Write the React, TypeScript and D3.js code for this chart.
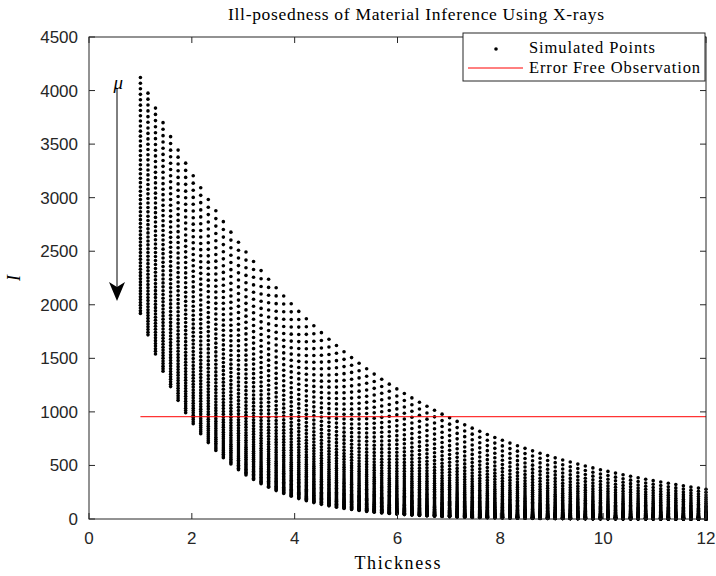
import React from "react";
import * as d3 from "d3";

// Thickness grid (76 columns from 1 to 12)
const THICKNESS = [
  1.0, 1.147, 1.293, 1.44, 1.587, 1.733, 1.88, 2.027, 2.173, 2.32, 2.467, 2.613, 2.76, 2.907, 3.053, 3.2,
  3.347, 3.493, 3.64, 3.787, 3.933, 4.08, 4.227, 4.373, 4.52, 4.667, 4.813, 4.96, 5.107, 5.253, 5.4, 5.547,
  5.693, 5.84, 5.987, 6.133, 6.28, 6.427, 6.573, 6.72, 6.867, 7.013, 7.16, 7.307, 7.453, 7.6, 7.747, 7.893,
  8.04, 8.187, 8.333, 8.48, 8.627, 8.773, 8.92, 9.067, 9.213, 9.36, 9.507, 9.653, 9.8, 9.947, 10.093, 10.24,
  10.387, 10.533, 10.68, 10.827, 10.973, 11.12, 11.267, 11.413, 11.56, 11.707, 11.853, 12.0,
];

// Attenuation coefficient of each simulated material (rows, top to bottom)
const MU = [
  0.245, 0.2536, 0.2621, 0.2707, 0.2792, 0.2878, 0.2964, 0.3049, 0.3135, 0.322, 0.3306, 0.3392, 0.3477, 0.3563,
  0.3648, 0.3734, 0.3819, 0.3905, 0.3991, 0.4076, 0.4162, 0.4247, 0.4333, 0.4419, 0.4504, 0.459, 0.4675, 0.4761,
  0.4847, 0.4932, 0.5018, 0.5103, 0.5189, 0.5275, 0.536, 0.5446, 0.5531, 0.5617, 0.5703, 0.5788, 0.5874, 0.5959,
  0.6045, 0.6131, 0.6216, 0.6302, 0.6387, 0.6473, 0.6558, 0.6644, 0.673, 0.6815, 0.6901, 0.6986, 0.7072, 0.7158,
  0.7243, 0.7329, 0.7414, 0.75,
];

// Effective source intensity for each material row
const SOURCE_I0 = [
  5266, 5243, 5220, 5197, 5174, 5152, 5129, 5107, 5084, 5062, 5040, 5018, 4996, 4974, 4952, 4930, 4909, 4887,
  4866, 4845, 4823, 4802, 4781, 4760, 4739, 4719, 4698, 4677, 4657, 4636, 4616, 4596, 4576, 4556, 4536, 4516,
  4496, 4476, 4457, 4437, 4418, 4399, 4379, 4360, 4341, 4322, 4303, 4284, 4265, 4247, 4228, 4210, 4191, 4173,
  4155, 4136, 4118, 4100, 4082, 4064,
];

const OBSERVATION_I = [955, 955];
const OBSERVATION_T = [1, 12];

const X_TICKS = [0, 2, 4, 6, 8, 10, 12];
const Y_TICKS = [0, 500, 1000, 1500, 2000, 2500, 3000, 3500, 4000, 4500];

const TITLE = "Ill-posedness of Material Inference Using X-rays";
const X_LABEL = "Thickness";
const Y_LABEL = "I";
const LEGEND = ["Simulated Points", "Error Free Observation"];

const W = 716;
const H = 576;
const M = { left: 89, right: 706, top: 37, bottom: 519 };
const AXIS = "#262626";
const SERIF = "'Liberation Serif', 'Times New Roman', serif";
const SANS = "'Liberation Sans', Arial, sans-serif";

export default function App() {
  const x = d3.scaleLinear().domain([0, 12]).range([M.left, M.right]);
  const y = d3.scaleLinear().domain([0, 4500]).range([M.bottom, M.top]);

  const points: { t: number; v: number }[] = [];
  THICKNESS.forEach((t) => {
    MU.forEach((mu, k) => {
      points.push({ t, v: SOURCE_I0[k] * Math.exp(-mu * t) });
    });
  });

  const obsLine = d3
    .line<number>()
    .x((d) => x(d))
    .y((_, i) => y(OBSERVATION_I[i]))(OBSERVATION_T);

  const legX = 463;
  const legY = 33;
  const legW = 242;
  const legH = 48;

  return (
    <svg
      width={W}
      height={H}
      style={{ position: "fixed", left: 0, top: 0, background: "#fff" }}
    >
      <rect x={0} y={0} width={W} height={H} fill="#fff" />
      {/* title */}
      <text
        x={228}
        y={20}
        fontFamily={SERIF}
        fontSize={17.5}
        textLength={376}
        lengthAdjust="spacing"
        fill="#000"
      >
        {TITLE}
      </text>

      {/* points */}
      <g fill="#000">
        {points.map((p, i) => (
          <circle key={i} cx={x(p.t)} cy={y(p.v)} r={1.8} />
        ))}
      </g>

      {/* observation line */}
      <path d={obsLine || ""} stroke="#ff0000" strokeWidth={1} fill="none" />

      {/* axes box */}
      <rect
        x={M.left}
        y={M.top}
        width={M.right - M.left}
        height={M.bottom - M.top}
        fill="none"
        stroke={AXIS}
        strokeWidth={1}
      />
      {/* x ticks */}
      {X_TICKS.map((t) => (
        <g key={"x" + t}>
          <line x1={x(t)} x2={x(t)} y1={M.bottom} y2={M.bottom - 6} stroke={AXIS} />
          <line x1={x(t)} x2={x(t)} y1={M.top} y2={M.top + 6} stroke={AXIS} />
          <text
            x={x(t)}
            y={543.5}
            textAnchor="middle"
            fontFamily={SANS}
            fontSize={17}
            fill={AXIS}
          >
            {t}
          </text>
        </g>
      ))}
      {/* y ticks */}
      {Y_TICKS.map((v) => (
        <g key={"y" + v}>
          <line x1={M.left} x2={M.left + 6} y1={y(v)} y2={y(v)} stroke={AXIS} />
          <line x1={M.right} x2={M.right - 6} y1={y(v)} y2={y(v)} stroke={AXIS} />
          <text
            x={78}
            y={y(v) + 6}
            textAnchor="end"
            fontFamily={SANS}
            fontSize={17}
            fill={AXIS}
          >
            {v}
          </text>
        </g>
      ))}

      {/* axis labels */}
      <text
        x={(M.left + M.right) / 2}
        y={569}
        textAnchor="middle"
        fontFamily={SERIF}
        fontSize={18}
        textLength={86}
        lengthAdjust="spacing"
        fill="#000"
      >
        {X_LABEL}
      </text>
      <text
        transform={`translate(20, ${(M.top + M.bottom) / 2}) rotate(-90)`}
        textAnchor="middle"
        fontFamily={SERIF}
        fontStyle="italic"
        fontSize={18}
        fill="#000"
      >
        {Y_LABEL}
      </text>

      {/* mu arrow */}
      <line x1={117} x2={117} y1={89} y2={290} stroke="#000" strokeWidth={1} />
      <path d="M117,301 L109,282 L117,287 L125,282 Z" fill="#000" />
      <text x={113.5} y={89} fontFamily={SERIF} fontStyle="italic" fontSize={19} fill="#000">
        μ
      </text>

      {/* legend */}
      <rect x={legX} y={legY} width={legW} height={legH} fill="#fff" stroke={AXIS} strokeWidth={1} />
      <circle cx={496} cy={49} r={1.8} fill="#000" />
      <text x={529} y={53} fontFamily={SERIF} fontSize={16.5} textLength={126} lengthAdjust="spacing" fill="#000">
        {LEGEND[0]}
      </text>
      <line x1={468} x2={523} y1={68} y2={68} stroke="#ff0000" strokeWidth={1} />
      <text x={529} y={73} fontFamily={SERIF} fontSize={16.5} textLength={171} lengthAdjust="spacing" fill="#000">
        {LEGEND[1]}
      </text>
    </svg>
  );
}
